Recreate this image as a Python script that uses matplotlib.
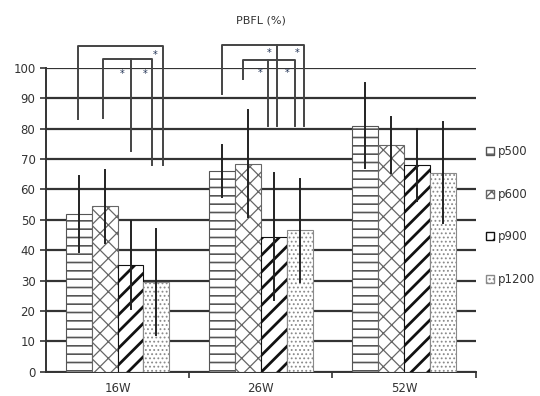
import numpy as np
import matplotlib
matplotlib.use('Agg')
import matplotlib.pyplot as plt
from matplotlib.patches import Patch

# PBFL values (%) per week group and pore size
weeks = ['16W', '26W', '52W']
series = ['p500', 'p600', 'p900', 'p1200']
p500 = [52, 66, 81]
p600 = [54.5, 68.5, 74.5]
p900 = [35, 44.5, 68]
p1200 = [29.5, 46.5, 65.5]
p500_err = [12.5, 8.5, 14]
p600_err = [12, 17.5, 9.2]
p900_err = [14.5, 21, 11.8]
p1200_err = [17.5, 17, 16.5]

# significance brackets: x in category units, y in %
bracket_x = [[-0.275, -0.275, 0.314, 0.314],
             [-0.10, -0.10, 0.241, 0.241],
             [0.093, 0.093],
             [0.726, 0.726, 1.300, 1.300],
             [1.114, 1.114],
             [0.876, 0.876, 1.237, 1.237],
             [1.051, 1.051]]
bracket_y = [[83, 107, 107, 68],
             [83.6, 103, 103, 68],
             [103, 72.6],
             [91.5, 107.5, 107.5, 80.9],
             [107.5, 80.9],
             [96.3, 102.5, 102.5, 80.9],
             [102.5, 80.9]]
star_x = [0.26, 0.035, 0.195, 1.056, 1.256, 0.993, 1.186]
star_y = [104.3, 98, 98, 104.8, 104.8, 98.1, 98.1]

values = [p500, p600, p900, p1200]
errors = [p500_err, p600_err, p900_err, p1200_err]
hatches = ['--', 'xx', '//', '....']
edges = ['#555555', '#666666', '#111111', '#8a8a8a']
hatch_lw = [1.2, 0.9, 2.0, 0.8]

fig = plt.figure(figsize=(5.4, 3.96), dpi=100)
ax = fig.add_axes([0.085, 0.061, 0.796, 0.768])

x = np.arange(len(weeks))
w = 0.181
for i in range(4):
    with plt.rc_context({'hatch.linewidth': hatch_lw[i]}):
        bars = ax.bar(x + (i - 1.5) * w, values[i], w, color='white',
                      edgecolor=edges[i], hatch=hatches[i], linewidth=0.8,
                      zorder=3)
    for b in bars:
        if hasattr(b, 'set_hatch_linewidth'):
            b.set_hatch_linewidth(hatch_lw[i])
    for xi, v, e in zip(x + (i - 1.5) * w, values[i], errors[i]):
        ax.plot([xi, xi], [v - e, v + e], color='#222222', lw=1.4, zorder=4)

for bx, by in zip(bracket_x, bracket_y):
    ax.plot(bx, by, color='#444444', lw=1.4, clip_on=False, zorder=5)
for sx, sy in zip(star_x, star_y):
    ax.text(sx, sy, '*', ha='center', va='center', fontsize=7,
            color='#223355', clip_on=False)

ax.set_xlim(-0.5, 2.5)
ax.set_ylim(0, 100)
ax.set_yticks(range(0, 101, 10))
ax.yaxis.grid(True, color='#333333', lw=1.6, zorder=0)
ax.set_axisbelow(True)
ax.set_xticks([0.5, 1.5, 2.5])
ax.set_xticklabels([])
ax.set_xticks(x, minor=True)
ax.set_xticklabels(weeks, minor=True, fontsize=8.5, color='#333333')
ax.tick_params(axis='x', which='minor', length=0, pad=7)
ax.tick_params(axis='x', which='major', length=4, width=1.2, color='#333333')
ax.tick_params(axis='y', length=4, width=1.2, color='#333333',
               labelsize=8.5, labelcolor='#333333')
for s in ['top', 'right']:
    ax.spines[s].set_visible(False)
for s in ['left', 'bottom']:
    ax.spines[s].set_linewidth(1.4)
    ax.spines[s].set_color('#333333')

ax.set_title('PBFL (%)', fontsize=8, color='#333333', pad=32)

handles = [Patch(facecolor='white', edgecolor=edges[i], hatch=hatches[i])
           for i in range(4)]
fig.legend(handles, series, loc='upper left', bbox_to_anchor=(0.88, 0.66),
           frameon=False, fontsize=8.5, handlelength=0.7, handleheight=0.7,
           handletextpad=0.3, labelspacing=2.5, labelcolor='#333333')

fig.savefig('out.png', dpi=100)
